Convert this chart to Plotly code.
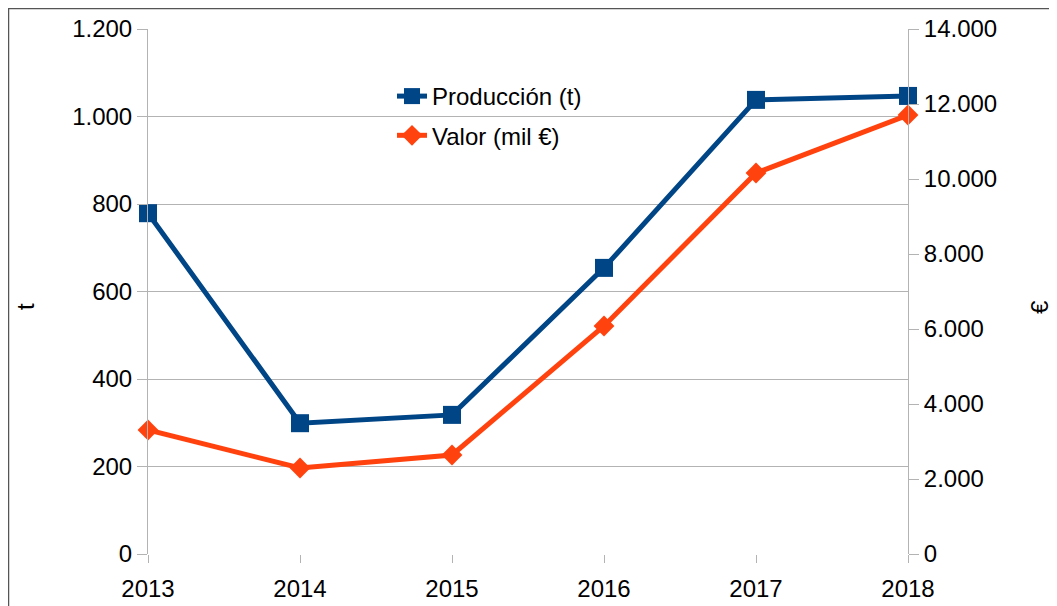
import plotly.graph_objects as go

years = [2013, 2014, 2015, 2016, 2017, 2018]
produccion = [779, 299, 318, 654, 1038, 1047]
valor = [3307, 2293, 2640, 6080, 10160, 11707]
left_ticks = [0, 200, 400, 600, 800, 1000, 1200]
right_ticks = [0, 2000, 4000, 6000, 8000, 10000, 12000, 14000]
left_title = "t"
right_title = "€"

BLUE = "#004586"
ORANGE = "#ff420e"
GRID = "#b3b3b3"
FONT = "Liberation Sans"
FS = 24

fig = go.Figure()
fig.add_trace(go.Scatter(
    x=years, y=produccion, name="Producción (t)", mode="lines+markers",
    legendgroup="a", cliponaxis=False,
    line=dict(color=BLUE, width=5), marker=dict(symbol="square", size=18, color=BLUE),
    yaxis="y"))
fig.add_trace(go.Scatter(
    x=years, y=valor, name="Valor (mil €)", mode="lines+markers",
    legendgroup="b", cliponaxis=False,
    line=dict(color=ORANGE, width=5), marker=dict(symbol="diamond", size=16, color=ORANGE),
    yaxis="y2"))

# page has an 8px body margin: figure origin sits at page (8, 8)
OFF = 8
W, H = 1057 - OFF, 606 - OFF
L, T = 148 - OFF, 29 - OFF
R = W - (908 - OFF)
B = H - (554 - OFF)
pw = W - L - R
ph = H - T - B

def px_x(page_x):
    return (page_x - OFF - L) / pw

def px_y(page_y):
    return (H - B - (page_y - OFF)) / ph

fig.update_layout(
    width=W, height=H,
    margin=dict(l=L, r=R, t=T, b=B, pad=0, autoexpand=False),
    paper_bgcolor="white", plot_bgcolor="white",
    separators=",.",
    font=dict(family=FONT, size=FS, color="black"),
    showlegend=True,
    legend=dict(x=px_x(392), y=px_y(74), xanchor="left", yanchor="top",
                bgcolor="rgba(0,0,0,0)", font=dict(size=FS, family=FONT),
                traceorder="grouped", tracegroupgap=5),
    xaxis=dict(range=[2013, 2018], tickvals=years, ticktext=[str(y) for y in years],
               showgrid=False, zeroline=False, showline=False, automargin=False,
               ticks="outside", ticklen=8, tickcolor=GRID, tickwidth=1,
               ticklabelstandoff=5,
               tickfont=dict(size=FS, family=FONT)),
    yaxis=dict(range=[0, 1200], tickvals=left_ticks, tickformat=",d",
               showgrid=True, gridcolor=GRID, gridwidth=1, zeroline=False,
               showline=True, linecolor=GRID, linewidth=1, automargin=False,
               ticks="outside", ticklen=10, tickcolor=GRID,
               tickfont=dict(size=FS, family=FONT)),
    yaxis2=dict(range=[0, 14000], tickvals=right_ticks, tickformat=",d",
                overlaying="y", side="right", showgrid=False, zeroline=False,
                showline=True, linecolor=GRID, linewidth=1, automargin=False,
                ticks="outside", ticklen=10, tickcolor=GRID,
                tickfont=dict(size=FS, family=FONT)),
    annotations=[
        dict(text=left_title, xref="paper", yref="paper", x=px_x(25), y=px_y(307),
             xanchor="center", yanchor="middle", textangle=-90, showarrow=False,
             font=dict(size=FS, family=FONT)),
        dict(text=right_title, xref="paper", yref="paper", x=px_x(1039), y=px_y(307),
             xanchor="center", yanchor="middle", textangle=-90, showarrow=False,
             font=dict(size=FS, family=FONT)),
    ],
    shapes=[dict(type="rect", xref="paper", yref="paper",
                 x0=px_x(8.5), x1=px_x(1080),
                 y0=px_y(640), y1=px_y(8.5),
                 line=dict(color="#555555", width=1.5), fillcolor="rgba(0,0,0,0)",
                 layer="below")],
)

fig.write_html("out.html")
